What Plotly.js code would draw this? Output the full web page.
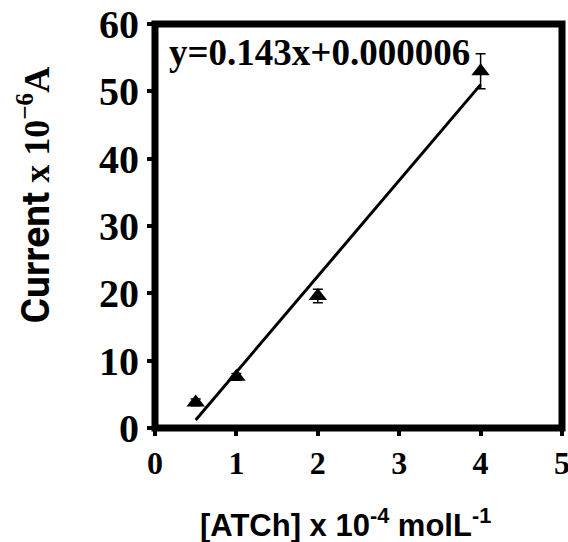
<!DOCTYPE html>
<html>
<head>
<meta charset="utf-8">
<script src="https://cdn.plot.ly/plotly-3.0.1.min.js"></script>
<style>html,body{margin:0;padding:0;background:#fff;}#chart{width:568px;height:542px;}</style>
</head>
<body>
<div id="chart"></div>
<script>
// Data
const concentration = [0.5, 1, 2, 4];          // [ATCh] x 10^-4 mol/L
const current = [3.8, 7.6, 19.6, 53.0];        // Current x 10^-6 A
const currentErr = [0.5, 0.5, 1.0, 2.6];
const fitX = [0.5, 4];
const fitY = [1.2, 51.0];
const xTicks = [0, 1, 2, 3, 4, 5];
const yTicks = [0, 10, 20, 30, 40, 50, 60];
const equationText = 'y=0.143x+0.000006';

const serif = 'Liberation Serif, Times New Roman, serif';

const traces = [
  {
    x: fitX, y: fitY, mode: 'lines', type: 'scatter',
    line: {color: '#000', width: 3}, hoverinfo: 'skip', showlegend: false
  },
  {
    x: concentration, y: current, mode: 'markers', type: 'scatter',
    marker: {symbol: 'triangle-up', size: 16, color: '#000'},
    error_y: {type: 'data', array: currentErr, visible: true, color: '#000', thickness: 1.5, width: 5},
    showlegend: false
  }
];

const layout = {
  width: 568, height: 542,
  margin: {l: 155, r: 6, t: 24, b: 114},
  paper_bgcolor: '#fff', plot_bgcolor: '#fff',
  showlegend: false,
  xaxis: {
    range: [0, 5], tickvals: xTicks, ticktext: xTicks.map(String),
    showgrid: false, zeroline: false, showline: false,
    ticks: 'outside', ticklen: 7, tickwidth: 4, tickcolor: '#000',
    ticklabeloverflow: 'allow',
    tickfont: {family: serif, size: 32, color: '#000', weight: 'bold'}
  },
  yaxis: {
    range: [0, 60], tickvals: yTicks, ticktext: yTicks.map(String),
    showgrid: false, zeroline: false, showline: false,
    ticks: 'outside', ticklen: 7, tickwidth: 4, tickcolor: '#000',
    ticklabeloverflow: 'allow',
    tickfont: {family: serif, size: 40, color: '#000', weight: 'bold'}
  },
  shapes: [{
    type: 'rect', xref: 'paper', yref: 'paper', x0: 0, x1: 1, y0: 0, y1: 1,
    line: {color: '#000', width: 7}, layer: 'above'
  }],
  annotations: [
    {
      text: equationText, xref: 'paper', yref: 'paper', x: 0.03, y: 0.93,
      xanchor: 'left', yanchor: 'middle', showarrow: false,
      font: {family: serif, size: 37, color: '#000', weight: 'bold'}
    },
    {
      text: "[ATCh] x 10<sup>-4</sup> molL<sup>-1</sup>",
      xref: 'paper', yref: 'paper', x: 0.469, y: -0.235,
      xanchor: 'center', yanchor: 'middle', showarrow: false,
      font: {family: 'Liberation Sans, Arial, sans-serif', size: 31, color: '#000', weight: 'bold'}
    },
    {
      text: "<span style=\"font-family:Roboto,'Liberation Sans',sans-serif;font-size:39px\">Current</span><span style=\"font-family:'Liberation Serif',serif;font-size:36px\"> x 10<sup>−6</sup>A</span>",
      xref: 'paper', yref: 'paper', x: -0.295, y: 0.578,
      xanchor: 'center', yanchor: 'middle', textangle: -90, showarrow: false,
      font: {family: serif, size: 36, color: '#000', weight: 'bold'}
    }
  ]
};

Plotly.newPlot('chart', traces, layout, {staticPlot: true, displayModeBar: false});
</script>
</body>
</html>
